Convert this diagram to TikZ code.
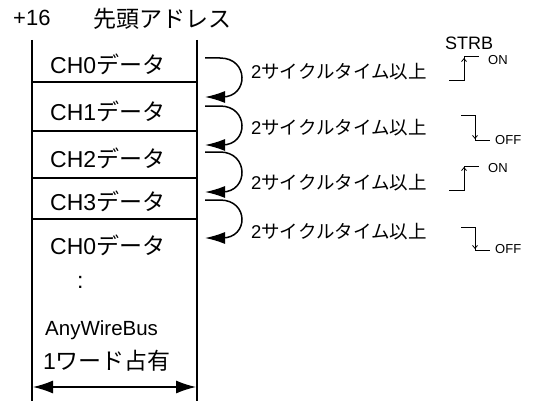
\documentclass[tikz,border=0pt]{standalone}
\usepackage{fontspec}
\setmainfont{Liberation Sans}
\newfontfamily\jp{Noto Sans CJK JP}
\usetikzlibrary{arrows.meta}
\begin{document}
\begin{tikzpicture}[x=1pt,y=-1pt,
  txt/.style={inner sep=0pt,anchor=west},
  big/.style={txt,font=\fontsize{23}{26}\selectfont},
  lab/.style={txt,font=\fontsize{18.5}{22}\selectfont},
  small/.style={txt,font=\fontsize{13}{15}\selectfont},
  ln/.style={line width=1.2pt,black},
  cur/.style={line width=1.5pt,-{Latex[length=20pt,width=12pt]}},
  sig/.style={line width=1pt},
  tick/.style={line width=0.8pt,-{Straight Barb[length=3pt,width=5pt]}}
]
\useasboundingbox (0,0) rectangle (534,401);
% frame
\draw[ln] (32,40) -- (32,401);
\draw[ln] (197,40) -- (197,401);
\foreach \yy in {82,131,178,219} \draw[ln] (32,\yy) -- (197,\yy);
% title
\node[txt,font=\fontsize{22}{26}\selectfont] (plus) at (13,18) {+16};
\node[txt,font=\fontsize{23}{26}\selectfont\jp] (head) at (93,19) {先頭アドレス};
% rows
\node[big] (c0) at (50,64) {CH0{\jp データ}};
\node[big] (c1) at (50,111) {CH1{\jp データ}};
\node[big] (c2) at (50,158) {CH2{\jp データ}};
\node[big] (c3) at (50,201) {CH3{\jp データ}};
\node[big] (c4) at (50,245) {CH0{\jp データ}};
\node[big] (dots) at (77,282) {:};
\node[txt,font=\fontsize{20.5}{24}\selectfont] (awb) at (45,330) {AnyWireBus};
\node[big] (word) at (43,361) {1{\jp ワード占有}};
% double arrow
\coordinate (wl) at (33,387);
\coordinate (wr) at (196,387);
\draw[line width=1.2pt,{Latex[length=20pt,width=13pt]}-{Latex[length=20pt,width=13pt]}] (wl) -- (wr);
% curved arrows
\foreach \s/\e [count=\i] in {58/97,106/145,152/192,200/238}{
  \coordinate (as\i) at (205,\s);
  \coordinate (ae\i) at (205,\e);
  \draw[cur] (as\i) -- (220,\s) .. controls (249,\s) and (249,\e) .. (222,\e) -- (ae\i);
}
% labels
\node[lab] (l1) at (251,72) {2{\jp サイクルタイム以上}};
\node[lab] (l2) at (251,128) {2{\jp サイクルタイム以上}};
\node[lab] (l3) at (251,183) {2{\jp サイクルタイム以上}};
\node[lab] (l4) at (251,232) {2{\jp サイクルタイム以上}};
% STRB
\node[txt,font=\fontsize{18}{20}\selectfont] (strb) at (445,43) {STRB};
% ON 1
\draw[sig] (449,81) -- (464,81) -- (464,57) -- (479,57);
\draw[tick] (464,66) -- (464,58);
\node[small] (on1) at (488,60) {ON};
% OFF 1
\draw[sig] (461,115) -- (475,115) -- (475,140) -- (490,140);
\draw[tick] (475,131) -- (475,139);
\node[small] (off1) at (495,140) {OFF};
% ON 2
\draw[sig] (449,190) -- (464,190) -- (464,166) -- (479,166);
\draw[tick] (464,175) -- (464,167);
\node[small] (on2) at (488,168) {ON};
% OFF 2
\draw[sig] (461,227) -- (475,227) -- (475,250) -- (490,250);
\draw[tick] (475,241) -- (475,249);
\node[small] (off2) at (495,249) {OFF};
\end{tikzpicture}
\end{document}
